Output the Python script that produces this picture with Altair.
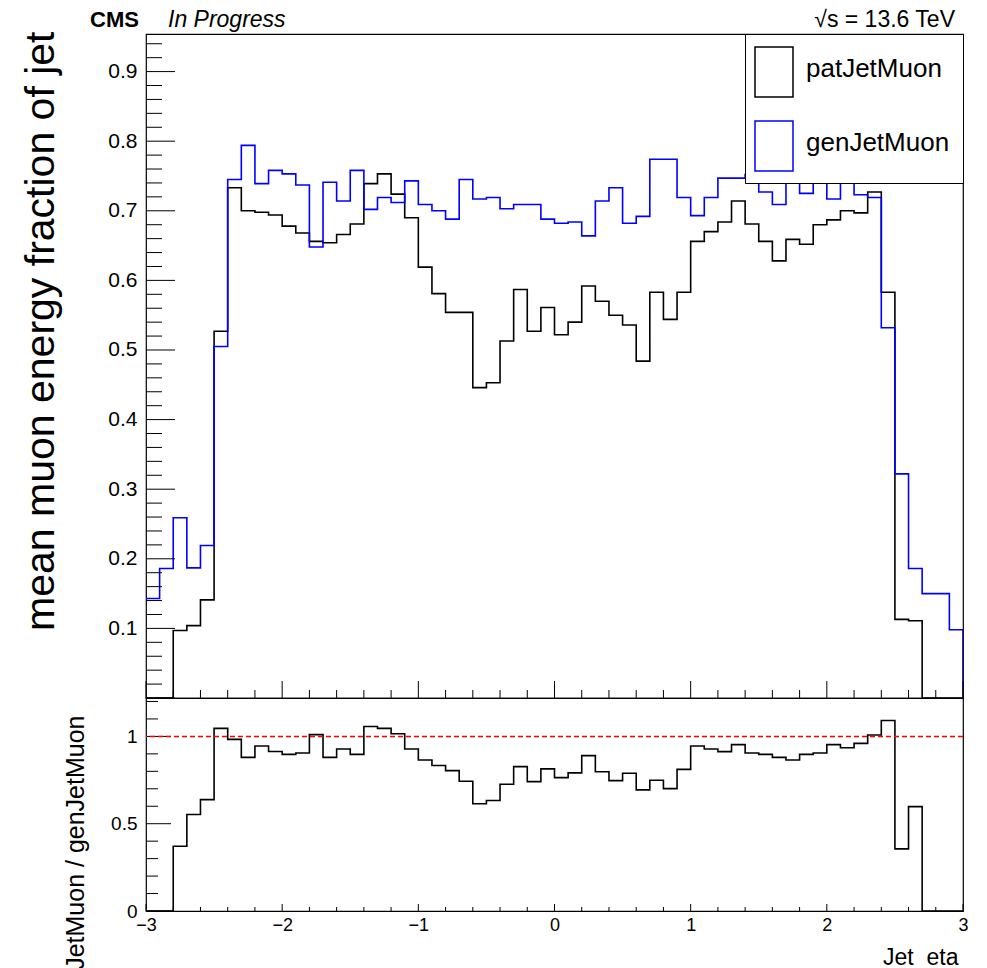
import altair as alt
import pandas as pd

# ---------------- data ----------------
bin_low = [round(-3.0 + 0.1 * i, 1) for i in range(60)]

gen_jet_muon = [0.143, 0.186, 0.259, 0.187, 0.219, 0.505, 0.745, 0.794, 0.739, 0.758,
                0.753, 0.737, 0.648, 0.741, 0.714, 0.758, 0.702, 0.719, 0.712, 0.743,
                0.709, 0.700, 0.688, 0.745, 0.717, 0.719, 0.703, 0.709, 0.709, 0.688,
                0.682, 0.684, 0.664, 0.714, 0.733, 0.682, 0.692, 0.774, 0.774, 0.719,
                0.693, 0.719, 0.747, 0.747, 0.752, 0.727, 0.709, 0.762, 0.725, 0.751,
                0.717, 0.749, 0.723, 0.719, 0.532, 0.322, 0.186, 0.150, 0.150, 0.098]

pat_jet_muon = [0.0, 0.0, 0.097, 0.104, 0.141, 0.527, 0.733, 0.700, 0.698, 0.694,
                0.678, 0.668, 0.656, 0.654, 0.666, 0.681, 0.739, 0.753, 0.724, 0.690,
                0.619, 0.581, 0.554, 0.554, 0.446, 0.453, 0.513, 0.587, 0.527, 0.561,
                0.522, 0.540, 0.592, 0.570, 0.550, 0.536, 0.484, 0.583, 0.544, 0.583,
                0.656, 0.670, 0.684, 0.714, 0.681, 0.656, 0.628, 0.659, 0.652, 0.680,
                0.687, 0.700, 0.697, 0.727, 0.583, 0.113, 0.111, 0.0, 0.0, 0.0]

ratio = [0.0, 0.0, 0.371, 0.553, 0.638, 1.046, 0.983, 0.880, 0.945, 0.914,
         0.897, 0.905, 1.010, 0.880, 0.928, 0.897, 1.057, 1.046, 1.015, 0.928,
         0.865, 0.833, 0.804, 0.743, 0.614, 0.633, 0.726, 0.827, 0.741, 0.814,
         0.764, 0.791, 0.890, 0.798, 0.747, 0.789, 0.694, 0.749, 0.701, 0.811,
         0.945, 0.928, 0.913, 0.953, 0.905, 0.897, 0.880, 0.865, 0.897, 0.905,
         0.953, 0.935, 0.960, 1.008, 1.091, 0.356, 0.598, 0.0, 0.0, 0.0]

series_names = ["patJetMuon", "genJetMuon"]
series_colors = ["#000000", "#0000ff"]

top_y_labels = [0.1, 0.2, 0.3, 0.4, 0.5, 0.6, 0.7, 0.8, 0.9]
top_y_major = [0.0, 0.1, 0.2, 0.3, 0.4, 0.5, 0.6, 0.7, 0.8, 0.9]
top_y_minor = [round(0.02 * i, 2) for i in range(48) if i % 5 != 0]
x_major = [-3, -2, -1, 0, 1, 2, 3]
x_minor = [round(-3 + 0.2 * i, 1) for i in range(31) if i % 5 != 0]
bot_y_major = [0, 0.5, 1]
bot_y_minor = [0.1, 0.2, 0.3, 0.4, 0.6, 0.7, 0.8, 0.9, 1.1, 1.2]

FONT = "Liberation Sans"
W, H_TOP, H_BOT = 817, 664, 213


def step_rows(values, name, close_to_zero=False):
    rows = [{"x": x, "y": v, "k": i, "s": name} for i, (x, v) in enumerate(zip(bin_low, values))]
    rows.append({"x": 3.0, "y": values[-1], "k": len(values), "s": name})
    if close_to_zero:
        rows.append({"x": 3.0, "y": 0.0, "k": len(values) + 1, "s": name})
    return rows


hist_df = pd.DataFrame(step_rows(pat_jet_muon, "patJetMuon") +
                       step_rows(gen_jet_muon, "genJetMuon", close_to_zero=True))
ratio_df = pd.DataFrame(step_rows(ratio, "ratio"))

xs_top = alt.Scale(domain=[-3, 3], nice=False, zero=False)
ys_top = alt.Scale(domain=[0, 0.954], nice=False, zero=False)
ys_bot = alt.Scale(domain=[0, 1.22], nice=False, zero=False)

# ---------------- top panel ----------------
hist = alt.Chart(hist_df).mark_line(interpolate="step-after", strokeWidth=1.6, clip=True).encode(
    x=alt.X("x:Q", scale=xs_top,
            axis=alt.Axis(labels=False, ticks=False, domain=False, grid=False, title=None)),
    y=alt.Y("y:Q", scale=ys_top,
            axis=alt.Axis(values=top_y_labels, format="~g", ticks=False, domain=False, grid=False,
                          labelFontSize=21, labelPadding=9, labelColor="black", labelFont=FONT,
                          title="mean muon energy fraction of jet", titleFontSize=41,
                          titleFont=FONT, titleFontWeight="normal", titleColor="black",
                          titleAngle=270, titleAlign="right", titleBaseline="bottom",
                          titleX=-84, titleY=-3)),
    color=alt.Color("s:N", scale=alt.Scale(domain=series_names, range=series_colors),
                    legend=alt.Legend(title="M", titleOrient="right", titleColor="white",
                                      titleFontSize=5, titlePadding=0,
                                      orient="none", legendX=599, legendY=0,
                                      fillColor="white", strokeColor="black", padding=9,
                                      rowPadding=17, labelFontSize=26, labelFont=FONT,
                                      labelColor="black", labelOffset=0,
                                      symbolType="M-1,-0.88L0.52,-0.88L0.52,1.12L-1,1.12Z",
                                      symbolSize=2500, symbolStrokeWidth=1.5,
                                      symbolFillColor="transparent")),
    order="k:Q",
)

top_ymaj = alt.Chart(pd.DataFrame({"v": top_y_major})).mark_rule(color="black", strokeWidth=1).encode(
    y=alt.Y("v:Q", scale=ys_top), x=alt.value(0), x2=alt.value(29))
top_ymin = alt.Chart(pd.DataFrame({"v": top_y_minor})).mark_rule(color="black", strokeWidth=1).encode(
    y=alt.Y("v:Q", scale=ys_top), x=alt.value(0), x2=alt.value(16))
top_xmaj = alt.Chart(pd.DataFrame({"v": x_major})).mark_rule(color="black", strokeWidth=1).encode(
    x=alt.X("v:Q", scale=xs_top), y=alt.value(H_TOP - 17), y2=alt.value(H_TOP))
top_xmin = alt.Chart(pd.DataFrame({"v": x_minor})).mark_rule(color="black", strokeWidth=1).encode(
    x=alt.X("v:Q", scale=xs_top), y=alt.value(H_TOP - 8), y2=alt.value(H_TOP))

cms = alt.Chart(pd.DataFrame({"t": ["CMS"]})).mark_text(
    font=FONT, fontWeight="bold", fontSize=22, align="left", baseline="alphabetic", color="black"
).encode(x=alt.value(-56), y=alt.value(-7), text="t:N")
prog = alt.Chart(pd.DataFrame({"t": ["In Progress"]})).mark_text(
    font=FONT, fontStyle="italic", fontSize=23, align="left", baseline="alphabetic", color="black"
).encode(x=alt.value(22), y=alt.value(-7), text="t:N")
energy = alt.Chart(pd.DataFrame({"t": ["\u221as = 13.6 TeV"]})).mark_text(
    font=FONT, fontSize=23, align="right", baseline="alphabetic", color="black"
).encode(x=alt.value(809), y=alt.value(-7), text="t:N")

top = alt.layer(hist, top_ymaj, top_ymin, top_xmaj, top_xmin, cms, prog, energy).properties(
    width=W, height=H_TOP)

# ---------------- ratio panel ----------------
rline = alt.Chart(ratio_df).mark_line(interpolate="step-after", strokeWidth=1.6, color="black", clip=True).encode(
    x=alt.X("x:Q", scale=xs_top,
            axis=alt.Axis(values=x_major, format="~g", ticks=False, domain=False, grid=False,
                          labelFontSize=18, labelPadding=5, labelColor="black", labelFont=FONT,
                          labelFlush=False,
                          title="Jet\u00a0\u00a0eta", titleFontSize=23, titleFont=FONT,
                          titleFontWeight="normal", titleColor="black", titleAlign="right",
                          titleBaseline="alphabetic", titleX=W - 5, titleY=53)),
    y=alt.Y("y:Q", scale=ys_bot,
            axis=alt.Axis(values=bot_y_major, format="~g", ticks=False, domain=False, grid=False,
                          labelFontSize=19, labelPadding=9, labelColor="black", labelFont=FONT,
                          title="JetMuon / genJetMuon", titleFontSize=25, titleFont=FONT,
                          titleFontWeight="normal", titleColor="black", titleAngle=270,
                          titleAlign="right", titleBaseline="bottom", titleX=-58, titleY=17)),
    order="k:Q",
)
unity = alt.Chart(pd.DataFrame({"v": [1.0]})).mark_rule(color="#ff0000", strokeWidth=1.5, strokeDash=[5, 3]).encode(
    y=alt.Y("v:Q", scale=ys_bot))
bot_ymaj = alt.Chart(pd.DataFrame({"v": bot_y_major})).mark_rule(color="black", strokeWidth=1).encode(
    y=alt.Y("v:Q", scale=ys_bot), x=alt.value(0), x2=alt.value(25))
bot_ymin = alt.Chart(pd.DataFrame({"v": bot_y_minor})).mark_rule(color="black", strokeWidth=1).encode(
    y=alt.Y("v:Q", scale=ys_bot), x=alt.value(0), x2=alt.value(12))
bot_xmaj = alt.Chart(pd.DataFrame({"v": x_major})).mark_rule(color="black", strokeWidth=1).encode(
    x=alt.X("v:Q", scale=xs_top), y=alt.value(H_BOT - 7), y2=alt.value(H_BOT))
bot_xmin = alt.Chart(pd.DataFrame({"v": x_minor})).mark_rule(color="black", strokeWidth=1).encode(
    x=alt.X("v:Q", scale=xs_top), y=alt.value(H_BOT - 4), y2=alt.value(H_BOT))

bottom = alt.layer(rline, bot_ymaj, bot_ymin, bot_xmaj, bot_xmin, unity).properties(
    width=W, height=H_BOT)

chart = alt.vconcat(top, bottom, spacing=0, bounds="flush").resolve_scale(
    x="independent", y="independent", color="independent"
).resolve_legend(color="independent").properties(
    padding={"left": 19, "top": 8, "right": 0, "bottom": 0}, background="white"
).configure(font=FONT).configure_view(stroke="black", strokeWidth=1.2)

chart.save("out.html", embed_options={"renderer": "svg", "actions": False})
